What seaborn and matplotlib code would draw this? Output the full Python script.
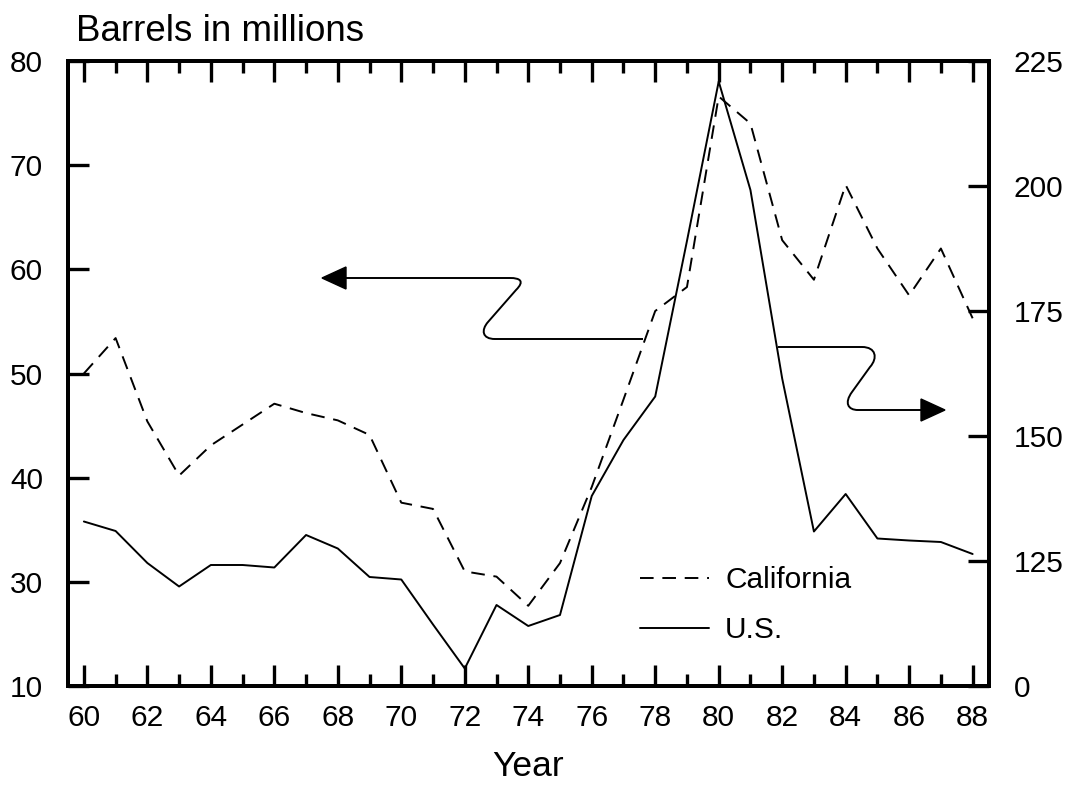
import matplotlib
matplotlib.use("Agg")
import matplotlib.pyplot as plt
import seaborn as sns
import pandas as pd
from matplotlib.path import Path
from matplotlib.patches import PathPatch, Polygon
from matplotlib.lines import Line2D

# ---------------- data ----------------
years = list(range(1960, 1989))
year_tick_labels = [str(y % 100) for y in range(1960, 1989, 2)]
california = [50.0, 53.4, 45.4, 40.2, 43.1, 45.1, 47.1, 46.2, 45.5, 44.1,
              37.6, 37.0, 31.0, 30.5, 27.7, 31.8, 39.1, 47.5, 56.0, 58.3,
              76.6, 74.0, 62.8, 59.0, 68.1, 62.0, 57.5, 62.0, 55.3]
us = [132.9, 131.0, 124.6, 119.9, 124.2, 124.2, 123.7, 130.2, 127.5, 121.8,
      121.3, 112.3, 103.5, 116.2, 112.0, 114.2, 138.0, 149.2, 157.9, 189.0,
      220.9, 199.2, 161.5, 130.9, 138.4, 129.5, 129.1, 128.8, 126.4]
left_ticks = [20, 30, 40, 50, 60, 70, 80]
left_tick_labels = ["10", "30", "40", "50", "60", "70", "80"]
right_ticks = [100, 125, 150, 175, 200, 225]
right_tick_labels = ["0", "125", "150", "175", "200", "225"]
series_names = ["California", "U.S."]

df = pd.DataFrame({"year": years, "california": california, "us": us})

# ---------------- style ----------------
sns.set_style("white")
plt.rcParams["font.family"] = ["Liberation Sans", "DejaVu Sans"]
plt.rcParams["text.color"] = "black"
plt.rcParams["axes.labelcolor"] = "black"
plt.rcParams["xtick.color"] = "black"
plt.rcParams["ytick.color"] = "black"

W, H = 1071, 786
fig = plt.figure(figsize=(W / 100, H / 100), dpi=100)
ax = fig.add_axes([68 / W, 1 - 686 / H, (988.5 - 68) / W, 625 / H])
ax2 = ax.twinx()

dash = (0, (7, 4.5))
sns.lineplot(data=df, x="year", y="california", ax=ax, color="black",
             linewidth=1.4, linestyle=dash, errorbar=None)
sns.lineplot(data=df, x="year", y="us", ax=ax2, color="black",
             linewidth=1.4, errorbar=None)

ax.set_xlim(1959.5, 1988.5)
ax.set_ylim(20, 80)
ax2.set_ylim(100, 225)

ax.set_xticks(range(1960, 1989, 2))
ax.set_xticklabels(year_tick_labels)
ax.set_xticks(range(1961, 1989, 2), minor=True)
ax.set_yticks(left_ticks)
ax.set_yticklabels(left_tick_labels)
ax2.set_yticks(right_ticks)
ax2.set_yticklabels(right_tick_labels)

fs = 21.5
ax.tick_params(axis="x", which="major", direction="in", top=True, bottom=True,
               length=15, width=2.4, pad=13, labelsize=fs, colors="black")
ax.tick_params(axis="x", which="minor", direction="in", top=True, bottom=True,
               length=8.5, width=2.4, colors="black")
ax.tick_params(axis="y", which="major", direction="in", left=True, right=False,
               length=15, width=2.4, pad=18, labelsize=fs, colors="black")
ax2.tick_params(axis="y", which="major", direction="in", right=True, left=False,
                length=15, width=2.4, pad=18, labelsize=fs, colors="black")
ax2.tick_params(axis="x", which="both", bottom=False, top=False,
                labelbottom=False)

for a in (ax, ax2):
    for s in a.spines.values():
        s.set_visible(True)
        s.set_linewidth(2.8)
        s.set_color("black")

ax.set_ylabel("")
ax2.set_ylabel("")
ax.set_xlabel("Year", fontsize=25.5, labelpad=13, color="black")

fig.text(76 / W, 1 - 41 / H, "Barrels in millions", fontsize=26.5,
         ha="left", va="baseline", color="black")

# legend
handles = [Line2D([], [], color="black", lw=1.4, linestyle=(0, (7, 4.5))),
           Line2D([], [], color="black", lw=1.4)]
leg = ax.legend(handles, series_names, loc="upper left",
                bbox_to_anchor=((640 - 68) / 920.5, (686 - 566) / 625),
                frameon=False, fontsize=fs, handlelength=2.3,
                handletextpad=0.55, labelspacing=0.75, borderpad=0,
                borderaxespad=0)
for t in leg.get_texts():
    t.set_color("black")


# ---------------- annotation arrows (figure pixels) ----------------
def fp(x, y):
    return (x / W, 1 - y / H)


def draw_arrow(verts, codes, tip, base_x, half_h):
    path = Path([fp(*v) for v in verts], codes)
    fig.add_artist(PathPatch(path, facecolor="none", edgecolor="black",
                             lw=1.4, transform=fig.transFigure))
    tx, ty = tip
    tri = Polygon([fp(tx, ty), fp(base_x, ty - half_h), fp(base_x, ty + half_h)],
                  closed=True, facecolor="black", edgecolor="black",
                  transform=fig.transFigure)
    fig.add_artist(tri)


M, L, C = Path.MOVETO, Path.LINETO, Path.CURVE4
left_verts = [(643, 339), (495, 339), (482, 339), (481, 330), (488, 322),
              (516, 290), (525, 281), (520, 278), (510, 278), (346, 278)]
left_codes = [M, L, C, C, C, L, C, C, C, L]
draw_arrow(left_verts, left_codes, (322, 278), 346, 11)

right_verts = [(778, 347), (862, 347), (876, 347), (878, 358), (870, 367),
               (852, 392), (844, 403), (848, 410), (858, 410), (922, 410)]
right_codes = [M, L, C, C, C, L, C, C, C, L]
draw_arrow(right_verts, right_codes, (945, 410), 921, 11)

fig.savefig("out.png", dpi=100, facecolor="white")
